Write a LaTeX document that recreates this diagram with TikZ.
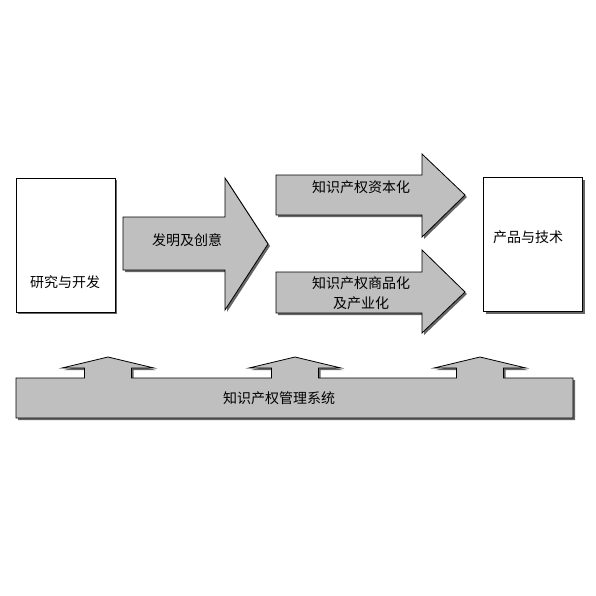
\documentclass[tikz,border=0pt]{standalone}
\usepackage{fontspec}
\setmainfont{Noto Sans CJK SC}
\usetikzlibrary{positioning,shadows}
\tikzset{blockshape/.style={
    draw=black,line width=0.8pt,fill=black!25,
    drop shadow={shadow xshift=2pt,shadow yshift=-2pt,fill=black!60,opacity=1}}}
\tikzset{plainbox/.style={
    rectangle,draw=black,line width=0.8pt,fill=white,
    minimum width=99pt,minimum height=134pt,
    drop shadow={shadow xshift=2pt,shadow yshift=-2pt,fill=black!60,opacity=1}}}
\tikzset{labeltext/.style={font=\fontsize{14}{20}\selectfont,inner sep=0pt}}

\begin{document}
\begin{tikzpicture}[x=1pt,y=-1pt]
  \useasboundingbox (0,0) rectangle (596,596);

  % boxes at both ends
  \node (rdbox)   [plainbox] at (65.5,245) {};
  \node (prodbox) [plainbox] at (533,244.5) {};

  % block arrows
  \draw [blockshape] (123,217) -- (225,217) -- (225,178) -- (268,244)
        -- (225,310) -- (225,270) -- (123,270) -- cycle;
  \draw [blockshape] (276,175) -- (422,175) -- (422,154) -- (465,195)
        -- (422,237) -- (422,215) -- (276,215) -- cycle;
  \draw [blockshape] (276,272) -- (422,272) -- (422,250) -- (465,292)
        -- (422,333) -- (422,313) -- (276,313) -- cycle;

  % management bar with its three up arrows
  \draw [blockshape] (16,378)
        \foreach \c in {108,295,480} {
          -- (\c-23.5,378) -- (\c-23.5,368) -- (\c-46,368) -- (\c,357)
          -- (\c+46,368) -- (\c+23.5,368) -- (\c+23.5,378)}
        -- (573,378) -- (573,418) -- (16,418) -- cycle;

  % texts
  \node (rdtext)      [labeltext] at (65,282)  {研究与开发};
  \node (prodtext)    [labeltext] at (528,237) {产品与技术};
  \node (invent)      [labeltext] at (187,240) {发明及创意};
  \node (capital)     [labeltext] at (361,187) {知识产权资本化};
  \node (commerce)    [labeltext,align=center] at (361,293) {知识产权商品化\\及产业化};
  \node (managesys)   [labeltext] at (279,398) {知识产权管理系统};

\end{tikzpicture}
\end{document}
